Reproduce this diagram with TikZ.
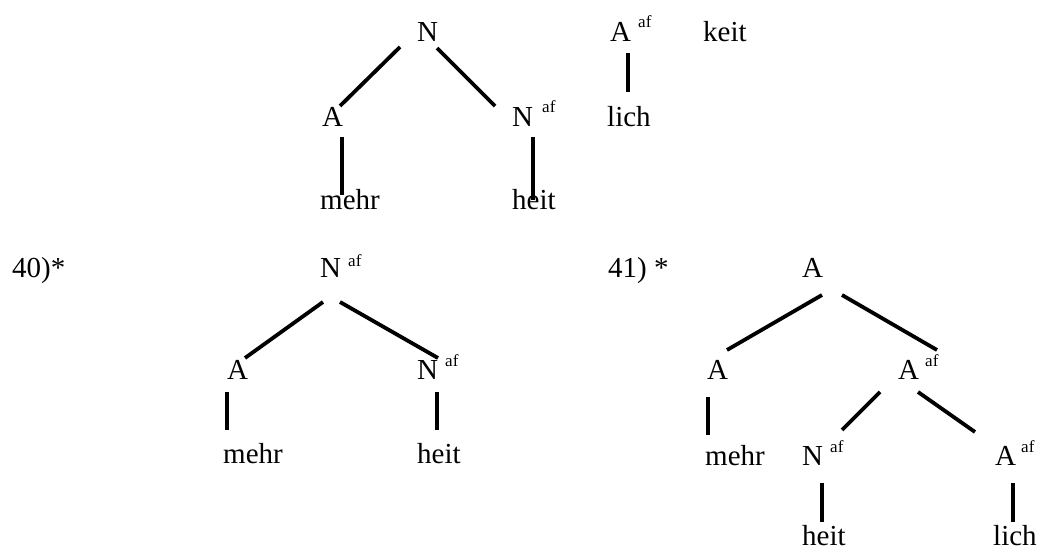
\documentclass[tikz,border=0pt]{standalone}
\usepackage{fontspec}
\setmainfont{Liberation Serif}
\usetikzlibrary{calc}
\tikzset{
  lab/.style={anchor=base west, inner sep=0pt, font=\fontsize{29}{30}\selectfont},
  sup/.style={anchor=base west, inner sep=0pt, font=\fontsize{17}{18}\selectfont},
  edge/.style={line width=3.8pt, line cap=butt}
}
\begin{document}
\begin{tikzpicture}[x=1pt,y=1pt]
\useasboundingbox (0,0) rectangle (1038,549);
% Tree 1
\node[lab] (t1N) at (417,507) {N};
\node[lab] (t1A) at (322,422) {A};
\node[lab] (t1Naf) at (512,422) {N};
\node[sup] (t1Nafs) at (542,436) {af};
\node[lab] (t1Aaf) at (610,507) {A};
\node[sup] (t1Aafs) at (638,521) {af};
\node[lab] (t1keit) at (703,507) {keit};
\node[lab] (t1lich) at (607,422) {lich};
\node[lab] (t1mehr) at (320,339) {mehr};
\node[lab] (t1heit) at (512,339) {heit};
\draw[edge] ($(t1N.base west)+(-17,-5)$) -- ($(t1A.base west)+(18,21)$);
\draw[edge] ($(t1N.base west)+(20,-6)$) -- ($(t1Naf.base west)+(-17,21)$);
\draw[edge] ($(t1A.base west)+(20,-10)$) -- ($(t1mehr.base west)+(22,15)$);
\draw[edge] ($(t1Naf.base west)+(21,-10)$) -- ($(t1heit.base west)+(21,10)$);
\draw[edge] ($(t1Aaf.base west)+(18,-11)$) -- ($(t1lich.base west)+(21,35)$);
% Tree 40
\node[lab] (lab40) at (12,271) {40)*};
\node[lab] (t2N) at (320,271) {N};
\node[sup] (t2Ns) at (348,282) {af};
\node[lab] (t2A) at (227,169) {A};
\node[lab] (t2Naf) at (417,169) {N};
\node[sup] (t2Nafs) at (445,182) {af};
\node[lab] (t2mehr) at (223,86) {mehr};
\node[lab] (t2heit) at (417,86) {heit};
\draw[edge] ($(t2N.base west)+(3,-24)$) -- ($(t2A.base west)+(18,22)$);
\draw[edge] ($(t2N.base west)+(20,-24)$) -- ($(t2Naf.base west)+(21,22)$);
\draw[edge] ($(t2A.base west)+(0,-12)$) -- ($(t2mehr.base west)+(4,33)$);
\draw[edge] ($(t2Naf.base west)+(20,-12)$) -- ($(t2heit.base west)+(20,33)$);
% Tree 41
\node[lab] (lab41) at (608,271) {41) *};
\node[lab] (t3A) at (802,271) {A};
\node[lab] (t3A1) at (707,169) {A};
\node[lab] (t3A2) at (898,169) {A};
\node[sup] (t3A2s) at (925,182) {af};
\node[lab] (t3mehr) at (705,84) {mehr};
\node[lab] (t3N) at (802,84) {N};
\node[sup] (t3Ns) at (830,97) {af};
\node[lab] (t3A3) at (995,84) {A};
\node[sup] (t3A3s) at (1021,97) {af};
\node[lab] (t3heit) at (802,4) {heit};
\node[lab] (t3lich) at (993,4) {lich};
\draw[edge] ($(t3A.base west)+(20,-17)$) -- ($(t3A1.base west)+(20,30)$);
\draw[edge] ($(t3A.base west)+(40,-17)$) -- ($(t3A2.base west)+(39,30)$);
\draw[edge] ($(t3A1.base west)+(1,-17)$) -- ($(t3mehr.base west)+(3,30)$);
\draw[edge] ($(t3A2.base west)+(-18,-12)$) -- ($(t3N.base west)+(40,35)$);
\draw[edge] ($(t3A2.base west)+(20,-12)$) -- ($(t3A3.base west)+(-20,33)$);
\draw[edge] ($(t3N.base west)+(20,-18)$) -- ($(t3heit.base west)+(20,23)$);
\draw[edge] ($(t3A3.base west)+(18,-18)$) -- ($(t3lich.base west)+(20,23)$);
\end{tikzpicture}
\end{document}
